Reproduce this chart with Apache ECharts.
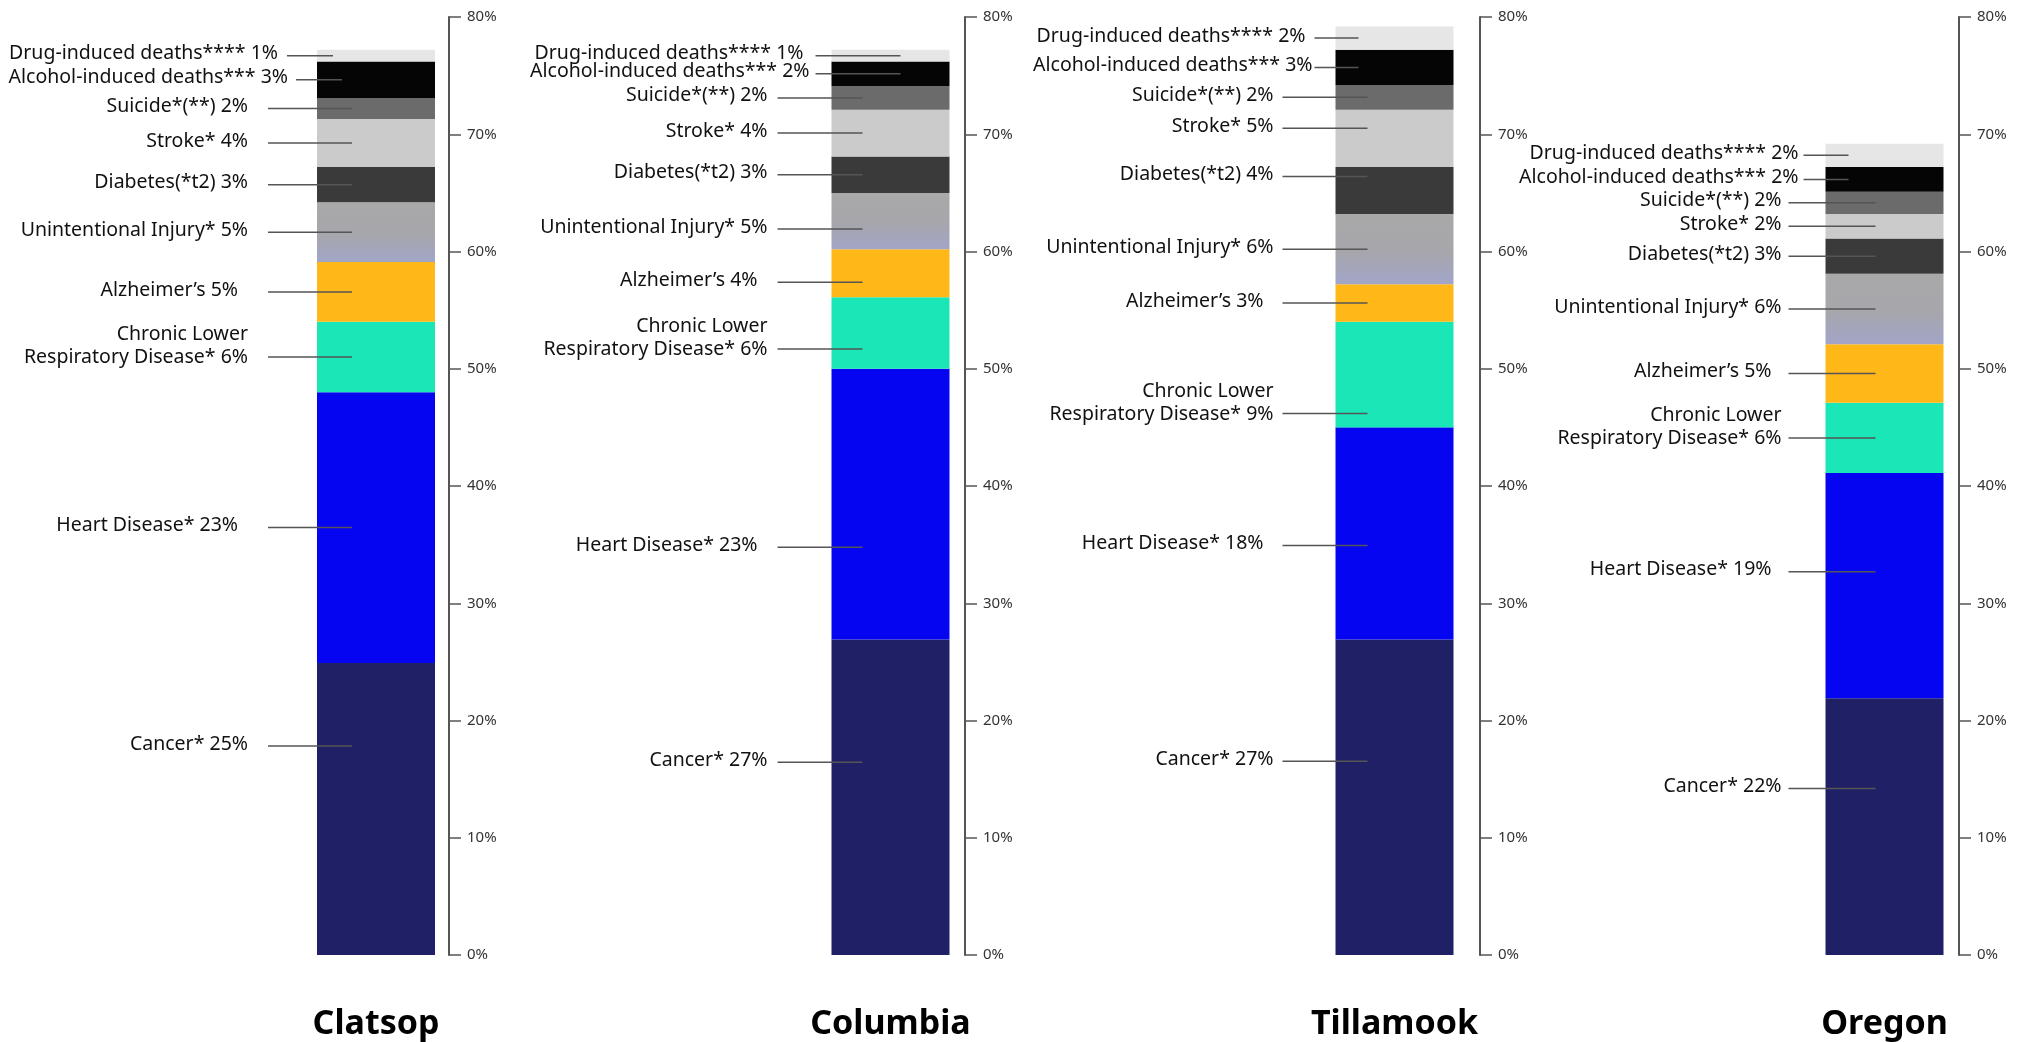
<!DOCTYPE html>
<html>
<head>
<meta charset="utf-8">
<script src="https://cdn.jsdelivr.net/npm/echarts@6/dist/echarts.min.js"></script>
<style>
html,body{margin:0;padding:0;background:#fff;}
#chart{width:2023px;height:1042px;}
</style>
</head>
<body>
<div id="chart"></div>
<script>
// ---------- DATA ----------
const regions = ['Clatsop', 'Columbia', 'Tillamook', 'Oregon'];
// stacked bottom -> top
const causes = [
  'Cancer*',
  'Heart Disease*',
  'Chronic Lower\nRespiratory Disease*',
  'Alzheimer\u2019s',
  'Unintentional Injury*',
  'Diabetes(*t2)',
  'Stroke*',
  'Suicide*(**)',
  'Alcohol-induced deaths***',
  'Drug-induced deaths****'
];
const clatsop   = [24.9, 23.1, 6.0, 5.1, 5.1, 3.0, 4.1, 1.8, 3.1, 1.0];
const columbia  = [26.9, 23.1, 6.1, 4.1, 4.8, 3.1, 4.0, 2.0, 2.1, 1.0];
const tillamook = [26.9, 18.1, 9.0, 3.2, 6.0, 4.0, 4.9, 2.1, 3.0, 2.0];
const oregon    = [21.9, 19.2, 6.0, 5.0, 6.0, 3.0, 2.1, 1.9, 2.1, 2.0];
const yMin = 0, yMax = 80, yInterval = 10;

const allValues = [clatsop, columbia, tillamook, oregon];

// ---------- STYLE / LAYOUT ----------
const FONT = 'Noto Sans';
const BAR_W = 118;
const colors = [
  '#202066', '#0505f2', '#1ae6b8', '#ffb818',
  null /* gradient */, '#3a3a3a', '#cbcbcb', '#6b6b6b', '#050505', '#e6e6e6'
];
const unintGradient = new echarts.graphic.LinearGradient(0, 0, 0, 1, [
  {offset: 0, color: '#a9a9a9'},
  {offset: 0.55, color: '#a6a6ac'},
  {offset: 1, color: '#a2a5c8'}
]);
const grids = [
  {left: 303, width: 146},
  {left: 816, width: 149},
  {left: 1309, width: 171},
  {left: 1810, width: 149}
];
// leader line geometry relative to bar left edge
// topStart/topEnd/topGap: [alcohol, drug]
const lineCfg = [
  {start: -49, end: 35, topStart: [-21, -30], topEnd: [25, 16], gap: 20, topGap: [8, 9]},
  {start: -54, end: 31, topStart: [-16, -16], topEnd: [69, 69], gap: 10, topGap: [6, 12]},
  {start: -53, end: 32, topStart: [-21, -21], topEnd: [23, 23], gap: 9, topGap: [2, 9]},
  {start: -37, end: 50, topStart: [-22, -22], topEnd: [23, 23], gap: 7, topGap: [5, 5]}
];
// vertical label nudges in px (region index -> cause index -> dy)
const nudges = [
  {0: -63},
  {0: -35, 1: 43, 2: 16, 3: 9, 4: 8},
  {0: -36, 1: 12, 2: 39, 5: -14, 6: -10},
  {0: -38, 1: -14}
];
const extraGap = {1: 10, 3: 10};

const option = {
  animation: false,
  backgroundColor: '#ffffff',
  grid: grids.map(g => ({left: g.left, width: g.width, top: 17, bottom: 87, containLabel: false})),
  xAxis: regions.map((r, i) => ({
    type: 'category',
    gridIndex: i,
    data: [r],
    axisLine: {show: false},
    axisTick: {show: false},
    axisLabel: {
      show: true, interval: 0, margin: 52,
      fontFamily: FONT, fontSize: 34, fontWeight: 'bold', color: '#000'
    }
  })),
  yAxis: regions.map((r, i) => ({
    type: 'value',
    gridIndex: i,
    position: 'right',
    min: yMin, max: yMax, interval: yInterval,
    splitLine: {show: false},
    axisLine: {show: true, lineStyle: {color: '#555', width: 2}},
    axisTick: {show: true, length: 12, lineStyle: {color: '#555', width: 1.5}},
    axisLabel: {
      margin: 18, formatter: '{value}%',
      fontFamily: FONT, fontSize: 15, color: '#333'
    }
  })),
  series: []
};

allValues.forEach((vals, r) => {
  vals.forEach((v, c) => {
    option.series.push({
      type: 'bar',
      name: causes[c],
      xAxisIndex: r,
      yAxisIndex: r,
      stack: 'stack' + r,
      barWidth: BAR_W,
      data: [v],
      itemStyle: {color: c === 4 ? unintGradient : colors[c]},
      silent: true
    });
  });
  // label + leader line layer
  let cum = 0;
  const rows = vals.map((v, c) => {
    const row = [0, cum, cum + v, c, v];
    cum += v;
    return row;
  });
  option.series.push({
    type: 'custom',
    xAxisIndex: r,
    yAxisIndex: r,
    z: 10,
    silent: true,
    clip: false,
    data: rows,
    encode: {x: 0, y: [1, 2]},
    renderItem: function (params, api) {
      const c = api.value(3);
      const b = api.value(1), t = api.value(2), v = api.value(4);
      const p = api.coord([0, (b + t) / 2]);
      const cfg = lineCfg[r];
      const dy = (nudges[r][c] || 0);
      const y = p[1] + dy;
      const barLeft = p[0] - BAR_W / 2;
      const isTop = c >= 8;
      const k = c - 8;
      const x1 = barLeft + (isTop ? cfg.topStart[k] : cfg.start);
      const x2 = barLeft + (isTop ? cfg.topEnd[k] : cfg.end);
      const tx = x1 - (isTop ? cfg.topGap[k] : cfg.gap) - (extraGap[c] || 0);
      const multi = causes[c].indexOf('\n') >= 0;
      return {
        type: 'group',
        children: [
          {
            type: 'line',
            shape: {x1: x1, y1: y, x2: x2, y2: y},
            style: {stroke: '#555', lineWidth: 1.5}
          },
          {
            type: 'text',
            x: tx,
            y: multi ? y + 12 : y - 2,
            style: {
              text: causes[c] + ' ' + Math.round(v) + '%',
              align: 'right',
              verticalAlign: multi ? 'bottom' : 'middle',
              fontFamily: FONT,
              fontSize: 19.5,
              lineHeight: 23,
              fill: '#111'
            }
          }
        ]
      };
    }
  });
});

const chart = echarts.init(document.getElementById('chart'), null, {renderer: 'canvas'});
chart.setOption(option);
</script>
</body>
</html>
